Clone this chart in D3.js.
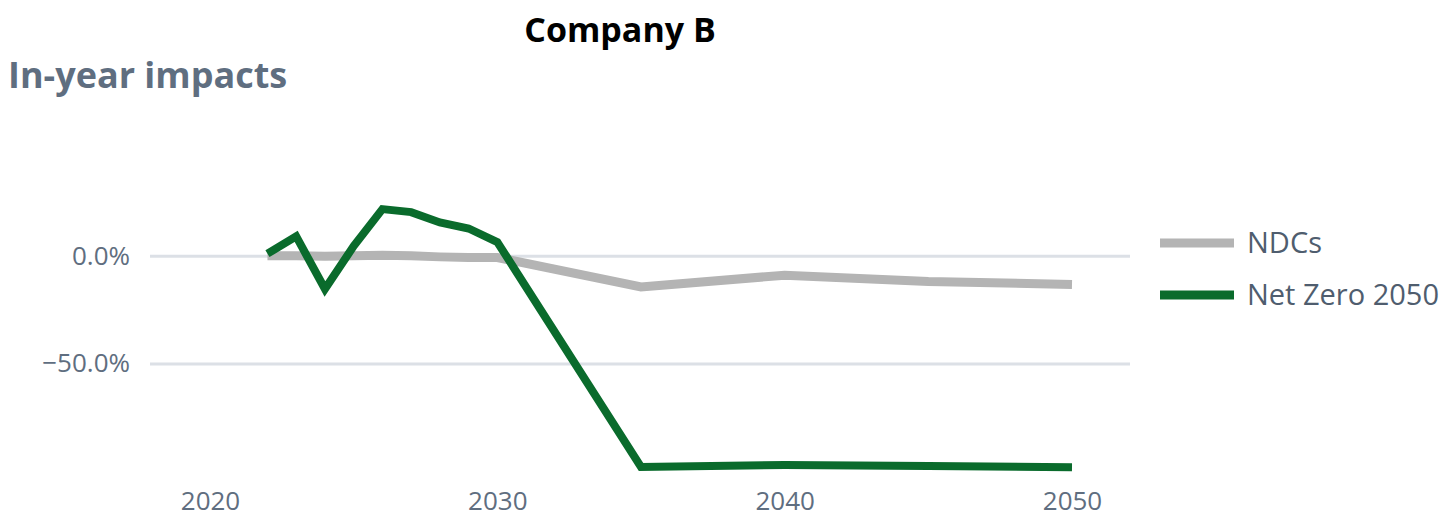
<!DOCTYPE html>
<html>
<head>
<meta charset="utf-8">
<script src="https://cdn.jsdelivr.net/npm/d3@7"></script>
<style>
  html, body { margin: 0; padding: 0; background: #ffffff; }
  svg { display: block; font-family: 'Open Sans', 'Noto Sans', sans-serif; }
</style>
</head>
<body>
<svg id="chart" width="1449" height="520"></svg>
<script>
const years = [2022, 2023, 2024, 2025, 2026, 2027, 2028, 2029, 2030, 2035, 2040, 2045, 2050];
const ndcs = [0, 0, -0.2, 0, 0.3, 0, -0.5, -0.8, -0.8, -14.5, -9.0, -11.9, -13.3];
const netZero2050 = [1, 9, -15.4, 4.5, 21.7, 20.3, 15.5, 12.7, 6.4, -98.1, -97.2, -97.7, -98.3];
const seriesNames = ["NDCs", "Net Zero 2050"];
const seriesColors = ["#b4b4b4", "#0a6b2c"];
const xTicks = [2020, 2030, 2040, 2050];
const yTicks = [0, -50];
const chartTitle = "Company B";
const chartSubtitle = "In-year impacts";

const svg = d3.select("#chart");

const x = d3.scaleLinear().domain([2020, 2050]).range([210, 1072]);
const y = d3.scaleLinear().domain([-100, 25]).range([471, 202]);

// Titles
svg.append("text")
  .attr("x", 620).attr("y", 42)
  .attr("text-anchor", "middle")
  .attr("font-size", 34).attr("font-weight", 700)
  .attr("fill", "#000000")
  .text(chartTitle);

svg.append("text")
  .attr("x", 8).attr("y", 88)
  .attr("font-size", 36).attr("font-weight", 700)
  .attr("fill", "#5f6e80")
  .text(chartSubtitle);

// Y axis with gridlines
const yAxis = d3.axisLeft(y)
  .tickValues(yTicks)
  .tickFormat(v => d3.format(".1%")(v / 100))
  .tickSizeInner(-980)
  .tickSizeOuter(0)
  .tickPadding(20);

const gy = svg.append("g").attr("transform", "translate(150,0)").call(yAxis);
gy.select(".domain").remove();
gy.selectAll(".tick line").attr("stroke", "#dce0e6").attr("stroke-width", 3);
gy.selectAll(".tick text")
  .attr("font-size", 26).attr("font-weight", 500)
  .attr("font-family", "'Open Sans', sans-serif")
  .attr("fill", "#5f6e80");

// X axis
const xAxis = d3.axisBottom(x)
  .tickValues(xTicks)
  .tickFormat(d3.format("d"))
  .tickSize(0)
  .tickPadding(0);

const gx = svg.append("g").attr("transform", "translate(0,492)").call(xAxis);
gx.select(".domain").remove();
gx.selectAll(".tick text")
  .attr("font-size", 26).attr("font-weight", 500)
  .attr("font-family", "'Open Sans', sans-serif")
  .attr("fill", "#5f6e80");

// Lines
const line = d3.line()
  .x((d, i) => x(years[i]))
  .y(d => y(d));

const seriesData = [ndcs, netZero2050];
const widths = [9, 8];

seriesData.forEach((vals, k) => {
  svg.append("path")
    .datum(vals)
    .attr("fill", "none")
    .attr("stroke", seriesColors[k])
    .attr("stroke-width", widths[k])
    .attr("stroke-linejoin", "miter")
    .attr("d", line);
});

// Legend
const legend = svg.append("g").attr("transform", "translate(1160,243)");
seriesNames.forEach((name, k) => {
  const g = legend.append("g").attr("transform", `translate(0,${k * 52})`);
  g.append("line")
    .attr("x1", 0).attr("x2", 74)
    .attr("y1", 0).attr("y2", 0)
    .attr("stroke", seriesColors[k])
    .attr("stroke-width", 9);
  g.append("text")
    .attr("x", 87).attr("y", 0)
    .attr("dy", "0.35em")
    .attr("font-size", 29)
    .attr("fill", "#4f5d6e")
    .text(name);
});
</script>
</body>
</html>
